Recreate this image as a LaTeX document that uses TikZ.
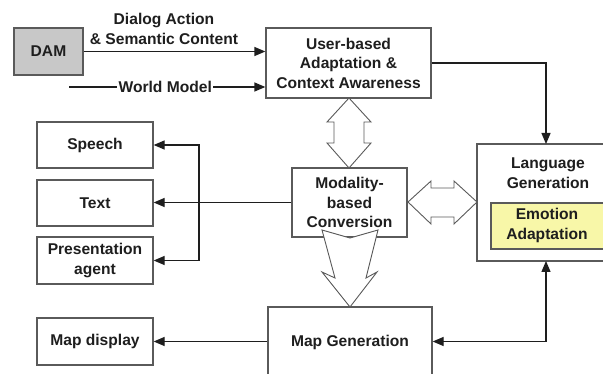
\documentclass[tikz,border=0pt]{standalone}
\usepackage{fontspec}
\setmainfont{Liberation Sans}
\usetikzlibrary{arrows.meta}
\definecolor{boxline}{HTML}{5A5A5A}
\definecolor{damfill}{HTML}{C8C8C8}
\definecolor{emofill}{HTML}{F8F7A8}
\definecolor{inkc}{HTML}{1E1E1E}
\tikzset{
  txt/.style={font=\fontsize{15.6}{19.5}\selectfont\bfseries, text=inkc, align=center, inner sep=0pt},
  box/.style={draw=boxline, line width=1.3pt, fill=white, minimum width=#1, inner sep=0pt},
  conn/.style={draw=inkc, line width=1.3pt, -{Triangle[length=11pt,width=9pt]}},
  bothconn/.style={draw=inkc, line width=1.3pt, {Triangle[length=11pt,width=9pt]}-{Triangle[length=11pt,width=9pt]}},
  blockarrow/.style={draw=boxline, line width=0.9pt, fill=white, line join=miter}
}
\begin{document}
\begin{tikzpicture}[x=1pt,y=-1pt]
\useasboundingbox (0,0) rectangle (603,374);

% boxes
\node[box=69pt, minimum height=47pt, fill=damfill, txt] (dam) at (48.5,51.5) {DAM};
\node[box=165pt, minimum height=70pt, txt] (user) at (348.5,63) {User-based\\Adaptation \&\\Context Awareness};
\node[box=116pt, minimum height=46pt, txt] (speech) at (95,145) {Speech};
\node[box=116pt, minimum height=46pt, txt] (text) at (95,203) {Text};
\node[box=116pt, minimum height=47pt, txt] (pres) at (95,260.5) {Presentation\\agent};
\node[box=116pt, minimum height=47pt, txt] (mapdisp) at (95,341.5) {Map display};
\node[box=115pt, minimum height=69pt, txt] (mod) at (349.5,202.5) {Modality-\\based\\Conversion};
% language generation block runs past the right margin
\node[box=160pt, minimum height=117pt] (lang) at (557,202.5) {};
\node[txt] (langtxt) at (548,173) {Language\\Generation};
\node[box=150pt, minimum height=46pt, fill=emofill] (emo) at (566,226) {};
\node[txt] (emotxt) at (547,225.5) {Emotion\\Adaptation};
\node[box=164pt, minimum height=83pt] (mapgen) at (350,348.5) {};
\node[txt] (mapgentxt) at (350,342) {Map Generation};

% block arrows
\draw[blockarrow] (349,98) -- (371,122) -- (364,122) -- (364,143) -- (371,143) -- (349,168)
  -- (327,143) -- (334,143) -- (334,122) -- (327,122) -- cycle;
\draw[blockarrow] (408,202) -- (431,181) -- (431,188) -- (454,188) -- (454,181) -- (477,202)
  -- (454,224) -- (454,217) -- (431,217) -- (431,224) -- cycle;
\draw[blockarrow] (322,230) -- (350,238) -- (378,230) -- (366,278) -- (377,272) -- (350,307)
  -- (322,272) -- (335,278) -- cycle;

% inputs
\node[txt] (dalabel) at (164,29) {Dialog Action\\\& Semantic Content};
\draw[conn] (dam.east) -- (dam.east -| user.west);
\coordinate (wmstart) at (69,87);
\draw[conn] (wmstart) -- (wmstart -| user.west)
  node[txt, pos=0.49, fill=white, inner xsep=1.5pt] (wmlabel) {World Model};

% user adaptation to language generation
\coordinate (langtop) at (546,144);
\draw[conn] (user.east) -| (langtop);

% modality conversion to output channels
\coordinate (bus) at (199,203);
\draw[conn] (mod.west) -- (mod.west -| text.east);
\draw[conn] (bus) |- (speech.east);
\draw[conn] (bus) |- (pres.east);

% map generation
\coordinate (langbot) at (546,261);
\draw[conn] (mapdisp.east -| mapgen.west) -- (mapdisp.east);
\draw[bothconn] (langbot) |- (mapdisp.east -| mapgen.east);
\end{tikzpicture}
\end{document}
